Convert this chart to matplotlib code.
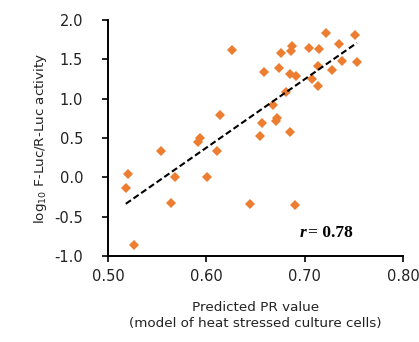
import matplotlib.pyplot as plt
import numpy as np

# predicted PR value vs log10 F-Luc/R-Luc activity
pr_value = [
    0.520, 0.518, 0.526, 0.554, 0.568, 0.564, 0.591, 0.593, 0.601, 0.611,
    0.614, 0.626, 0.644, 0.654, 0.657, 0.659, 0.668, 0.671, 0.672, 0.674,
    0.676, 0.681, 0.685, 0.685, 0.686, 0.687, 0.691, 0.690, 0.704, 0.707,
    0.713, 0.714, 0.713, 0.722, 0.728, 0.735, 0.738, 0.751, 0.753,
]
log_activity = [
    0.04, -0.14, -0.86, 0.33, 0.00, -0.33, 0.45, 0.50, 0.00, 0.33,
    0.79, 1.62, -0.34, 0.52, 0.69, 1.34, 0.92, 0.72, 0.75, 1.39,
    1.58, 1.09, 0.58, 1.31, 1.60, 1.67, 1.29, -0.35, 1.65, 1.25,
    1.41, 1.63, 1.16, 1.84, 1.36, 1.70, 1.48, 1.81, 1.46,
]
r_text = "= 0.78"

x_ticks = [0.50, 0.60, 0.70, 0.80]
y_ticks = [-1.0, -0.5, 0.0, 0.5, 1.0, 1.5, 2.0]

x = np.array(pr_value)
y = np.array(log_activity)

fig = plt.figure(figsize=(4.19, 3.42), dpi=100)
ax = fig.add_axes([0.258, 0.2515, 0.704, 0.69])

ax.plot(x, y, linestyle="none", marker="D", markersize=5.2,
        color="#ED7D31", markeredgewidth=0)

# linear trend line
slope, intercept = np.polyfit(x, y, 1)
fit_x = np.array([x.min(), x.max()])
ax.plot(fit_x, slope * fit_x + intercept, "k--", linewidth=1.5,
        dashes=(3, 1.5))

ax.set_xlim(0.5, 0.8)
ax.set_ylim(-1.0, 2.0)
ax.set_xticks(x_ticks)
ax.set_xticklabels([f"{v:.2f}" for v in x_ticks])
ax.set_yticks(y_ticks)
ax.set_yticklabels([f"{v:.1f}" for v in y_ticks])

for side in ["top", "right"]:
    ax.spines[side].set_visible(False)
for side in ["left", "bottom"]:
    ax.spines[side].set_linewidth(1.4)
ax.tick_params(axis="x", direction="out", length=4, width=1.2, pad=5.5,
               labelsize=10.5)
ax.tick_params(axis="y", direction="out", length=4, width=1.2, pad=14,
               labelsize=10.5)
ax.tick_params(colors="black", which="both", labelcolor="#222222")

ax.set_xlabel("Predicted PR value\n(model of heat stressed culture cells)",
              fontsize=9.7, labelpad=12, color="#222222", linespacing=1.35)
ax.set_ylabel(r"log$_{10}$ F-Luc/R-Luc activity", fontsize=9.7,
              labelpad=4, color="#222222")

ax.text(0.695, -0.71, "r", fontsize=12.5, family="Liberation Serif",
        style="italic", weight="bold", va="center", ha="left")
ax.text(0.703, -0.71, r_text, fontsize=12.5, family="Liberation Serif",
        weight="bold", va="center", ha="left")

fig.savefig("out.png", dpi=100)
